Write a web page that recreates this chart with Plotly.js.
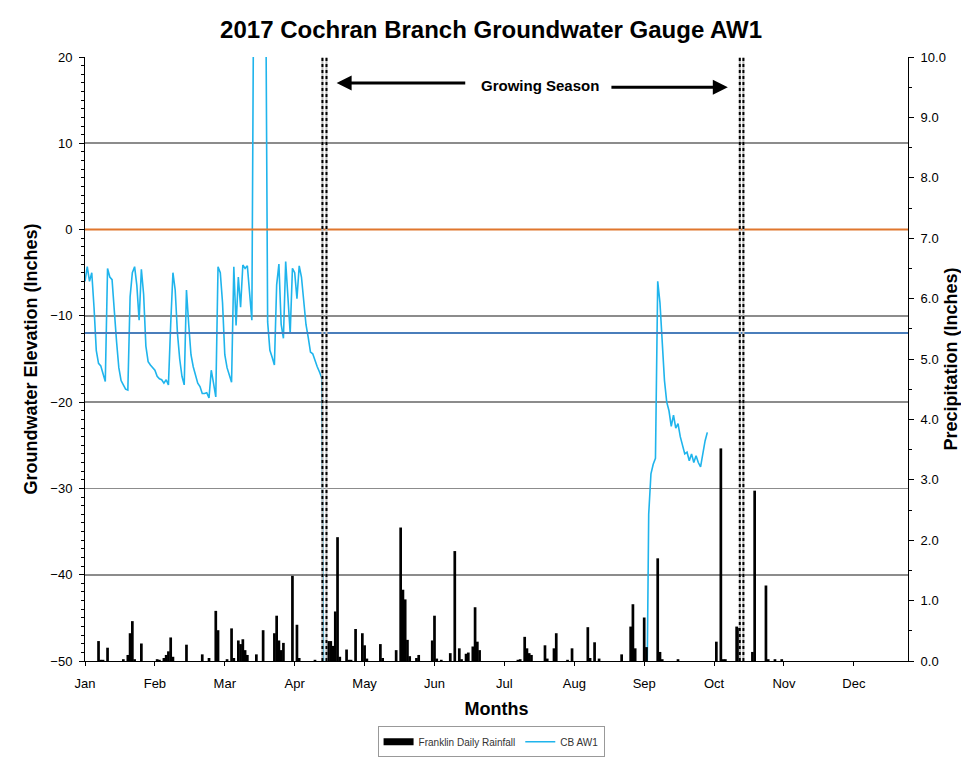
<!DOCTYPE html>
<html><head><meta charset="utf-8">
<script src="https://cdn.plot.ly/plotly-3.0.1.min.js"></script>
<style>html,body{margin:0;padding:0;background:#fff}#chart{width:961px;height:761px}</style>
</head><body><div id="chart"></div>
<script>
// ---------- DATA ----------
const monthLabels = ['Jan','Feb','Mar','Apr','May','Jun','Jul','Aug','Sep','Oct','Nov','Dec'];

// Franklin Daily Rainfall (inches): day of year (0 = Jan 1) and value
const rainDays = [6,7,8,10,17,19,20,21,22,25,32,33,35,36,37,38,39,45,52,55,58,59,63,65,66,68,69,70,71,72,76,79,84,85,86,87,88,92,94,95,102,
  108,109,110,111,112,113,116,117,118,120,123,124,125,131,132,138,140,141,142,143,144,147,148,154,155,156,158,162,164,166,167,169,170,172,173,174,175,
  192,193,195,196,197,198,204,205,208,209,214,216,223,224,226,228,238,242,243,244,248,249,254,255,256,263,280,282,283,284,289,290,296,297,302,303,306,309];
const rainValues = [0.33,0.02,0.02,0.22,0.03,0.10,0.46,0.66,0.03,0.29,0.03,0.02,0.05,0.10,0.16,0.39,0.07,0.27,0.11,0.05,0.83,0.51,0.03,0.54,0.05,0.34,0.28,0.36,0.18,0.10,0.11,0.51,0.46,0.75,0.34,0.18,0.30,1.41,0.60,0.05,0.02,
  0.33,0.33,0.25,0.82,2.05,0.07,0.19,0.02,0.02,0.53,0.46,0.26,0.04,0.28,0.05,0.18,2.21,1.18,1.02,0.35,0.08,0.05,0.10,0.34,0.75,0.04,0.02,0.13,1.82,0.21,0.03,0.12,0.14,0.24,0.89,0.32,0.18,
  0.02,0.03,0.40,0.21,0.13,0.10,0.26,0.04,0.21,0.46,0.02,0.21,0.56,0.05,0.31,0.04,0.11,0.57,0.94,0.21,0.72,0.23,1.70,0.15,0.03,0.03,0.32,3.52,0.03,0.03,0.57,0.55,0.15,2.82,1.25,0.03,0.03,0.03];

// CB AW1 groundwater (inches), daily readings; first block starts Jan 1 (day 0)
const gwBlock1Start = 0;
const gwBlock1 = [-6.0,-4.3,-6.0,-5.0,-9.0,-14.0,-15.5,-15.8,-16.7,-17.6,
  -4.5,-5.5,-5.8,-9.8,-13.0,-16.0,-17.5,-18.0,-18.5,-18.6,
  -7.8,-5.0,-4.3,-6.5,-10.5,-4.6,-7.5,-13.5,-15.3,-15.7,
  -16.0,-16.3,-17.0,-17.3,-17.4,-17.8,-17.4,-18.0,-11.0,-5.0,
  -7.0,-12.0,-15.0,-17.0,-18.0,-7.0,-11.0,-14.5,-15.9,-17.0,
  -17.8,-18.2,-19.0,-19.0,-18.9,-19.5,-16.3,-17.8,-19.4,-4.3,
  -5.0,-8.5,-14.5,-16.0,-16.8,-17.7,-4.3,-11.1,-5.5,-9.0,
  -4.1,-4.5,-4.2,-7.5,-10.5,38,40,41,40,38,
  36,-10.7,-14.0,-14.8,-15.7,-6.4,-4.0,-11.0,-12.6,-3.7,
  -7.5,-12.0,-4.5,-5.0,-8.0,-4.2,-5.5,-8.3,-11.0,-12.5,
  -14.2,-14.4,-15.2,-15.9,-16.5,-17.2,-60];
// second block starts Sep 7 (day 249)
const gwBlock2Start = 249;
const gwBlock2 = [-60,-33.0,-28.3,-27.2,-26.5,-6.0,-8.5,-12.4,-17.5,-20.0,
  -21.0,-22.8,-21.5,-23.0,-22.5,-24.0,-25.0,-26.0,-25.8,-26.8,
  -26.0,-27.0,-26.2,-27.0,-27.5,-26.0,-24.5,-23.5];

// reference levels (inches)
const groundSurfaceLevel = 0;
const wetlandThreshold = -12;
// ---------- END DATA ----------

const gwDays = [], gwValues = [];
gwBlock1.forEach((v,i)=>{gwDays.push(gwBlock1Start+i); gwValues.push(v);});
gwDays.push(gwBlock1Start+gwBlock1.length); gwValues.push(null);
gwBlock2.forEach((v,i)=>{gwDays.push(gwBlock2Start+i); gwValues.push(v);});

const tickDays = monthLabels.map((m,i)=>31*i);
const FONT = 'Liberation Sans, Arial, sans-serif';

const traces = [
  {type:'bar', x:rainDays, y:rainValues, yaxis:'y2', width:1.2,
   marker:{color:'#000', line:{width:0}}, name:'Franklin Daily Rainfall', showlegend:false, hoverinfo:'skip'},
  {type:'scatter', mode:'lines', x:[null], y:[null], yaxis:'y2',
   line:{color:'#000', width:7}, name:'Franklin Daily Rainfall'},
  {type:'scatter', mode:'lines', x:gwDays, y:gwValues, connectgaps:false,
   line:{color:'#1FB4EC', width:1.6}, name:'CB AW1'}
];

const gsLines = [105.3, 107.1, 290.4, 292.0];
const shapes = [
  {type:'line', xref:'paper', x0:0, x1:1, yref:'y', y0:groundSurfaceLevel, y1:groundSurfaceLevel,
   line:{color:'#E0762D', width:2}, layer:'above'},
  {type:'line', xref:'paper', x0:0, x1:1, yref:'y', y0:wetlandThreshold, y1:wetlandThreshold,
   line:{color:'#4A7EBB', width:2}, layer:'above'}
];
gsLines.forEach(x=>{
  shapes.push({type:'line', xref:'x', x0:x, x1:x, yref:'paper', y0:0, y1:1, line:{color:'#bbb', width:2}, layer:'above'});
  shapes.push({type:'line', xref:'x', x0:x, x1:x, yref:'paper', y0:0, y1:1, line:{color:'#000', width:2, dash:'dot'}, layer:'above'});
});

const annotations = [
  {x:201.8, y:16.75, xref:'x', yref:'y', text:'<b>Growing Season</b>', showarrow:false,
   font:{size:15, color:'#000', family:FONT}},
  {x:111.6, y:17.0, xref:'x', yref:'y', ax:169.3, ay:17.0, axref:'x', ayref:'y', text:'',
   showarrow:true, arrowhead:2, arrowsize:1, arrowwidth:3, arrowcolor:'#000'},
  {x:285.1, y:16.5, xref:'x', yref:'y', ax:232.8, ay:16.5, axref:'x', ayref:'y', text:'',
   showarrow:true, arrowhead:2, arrowsize:1, arrowwidth:3, arrowcolor:'#000'}
];

const layout = {
  width:961, height:761,
  margin:{l:85, r:53, t:57, b:100},
  paper_bgcolor:'#fff', plot_bgcolor:'#fff',
  font:{family:FONT, color:'#000'},
  title:{text:'<b>2017 Cochran Branch Groundwater Gauge AW1</b>', font:{size:24, family:FONT, color:'#000'},
         x:0.511, xanchor:'center', y:0.961, yanchor:'middle'},
  showlegend:true,
  legend:{orientation:'h', xref:'container', yref:'container', x:0.511, xanchor:'center', y:0.005, yanchor:'bottom',
          bordercolor:'#999', borderwidth:1, font:{size:10, color:'#333', family:FONT}, tracegroupgap:0},
  xaxis:{range:[0,365], tickvals:tickDays, ticktext:monthLabels, ticks:'outside', ticklen:4, tickcolor:'#000',
         showline:true, linecolor:'#000', linewidth:1, showgrid:false, zeroline:false,
         tickfont:{size:13}, ticklabelstandoff:6,
         title:{text:'<b>Months</b>', font:{size:18}, standoff:12}},
  yaxis:{range:[-50,20], dtick:10, ticks:'outside', ticklen:5, tickcolor:'#000',
         showline:true, linecolor:'#000', linewidth:1, gridcolor:'#8c8c8c', gridwidth:1.6, zeroline:false,
         minor:{dtick:1, ticks:'outside', ticklen:3, tickcolor:'#000', showgrid:false},
         tickfont:{size:13}, ticklabelstandoff:4,
         title:{text:'<b>Groundwater Elevation (Inches)</b>', font:{size:18}, standoff:8}},
  yaxis2:{overlaying:'y', side:'right', range:[0,10], dtick:1, tickformat:'.1f',
          showgrid:false, zeroline:false, showline:true, linecolor:'#000', linewidth:1,
          ticks:'outside', ticklen:5, tickcolor:'#000',
          minor:{dtick:0.5, ticks:'outside', ticklen:3, tickcolor:'#000'},
          tickfont:{size:13}, ticklabelstandoff:4,
          title:{text:'<b>Precipitation (Inches)</b>', font:{size:18}, standoff:8}},
  shapes:shapes, annotations:annotations
};

Plotly.newPlot('chart', traces, layout, {displayModeBar:false, staticPlot:true});
</script></body></html>
